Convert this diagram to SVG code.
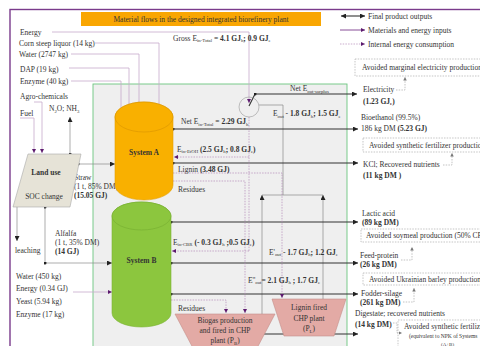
<svg xmlns="http://www.w3.org/2000/svg" width="480" height="346" viewBox="0 0 480 346">
<style>
text{font-family:"Liberation Serif","DejaVu Serif",serif;font-size:7.5px;fill:#333}
.b{font-weight:bold}
.s{font-size:4.8px}
.c{text-anchor:middle}
.in{stroke:#c7a9cb;stroke-width:0.8;fill:none}
.out{stroke:#333;stroke-width:1.1;fill:none}
.int{stroke:#b58ab9;stroke-width:0.7;stroke-dasharray:1.5,1.2;fill:none}
.g{stroke:#8a8a8a;stroke-width:0.7;fill:none}
.av{stroke:#9a9a9a;stroke-width:0.6;stroke-dasharray:1.5,1.2;fill:none}
.box{fill:none;stroke:#a0a0a0;stroke-width:0.6;stroke-dasharray:1.5,1.2}
.chp{fill:#e3aaa5;stroke:#c48f8a;stroke-width:0.6}
</style>
<defs>
<marker id="ap" viewBox="0 0 6 6" refX="6" refY="3" markerWidth="4" markerHeight="4" markerUnits="userSpaceOnUse" orient="auto"><path d="M0,0L6,3L0,6z" fill="#5c1a6e"/></marker>
<marker id="ab" viewBox="0 0 6 6" refX="6" refY="3" markerWidth="5" markerHeight="5" markerUnits="userSpaceOnUse" orient="auto"><path d="M0,0L6,3L0,6z" fill="#222"/></marker>
<marker id="abs" viewBox="0 0 6 6" refX="0" refY="3" markerWidth="5" markerHeight="5" markerUnits="userSpaceOnUse" orient="auto"><path d="M6,0L0,3L6,6z" fill="#222"/></marker>
<marker id="ag" viewBox="0 0 6 6" refX="6" refY="3" markerWidth="3.5" markerHeight="3.5" markerUnits="userSpaceOnUse" orient="auto"><path d="M0,0L6,3L0,6z" fill="#777"/></marker>
<marker id="dot" viewBox="0 0 4 4" refX="2" refY="2" markerWidth="3" markerHeight="3" markerUnits="userSpaceOnUse"><circle cx="2" cy="2" r="2" fill="#222"/></marker>
</defs>

<rect x="10" y="9.5" width="480" height="350" fill="#fff" stroke="#7a3b8c" stroke-width="1.4"/>
<rect id="region" x="93" y="84" width="254" height="270" fill="#efefef" stroke="#6cc57f" stroke-width="0.9"/>

<g id="title">
<rect x="81" y="12" width="240" height="14" fill="#f9a602"/>
<text x="201" y="21.5" class="c">Material flows in the designed integrated biorefinery plant</text>
</g>

<g id="legend">
<line x1="341" y1="16" x2="365" y2="16" class="out" marker-start="url(#abs)" marker-end="url(#ab)"/>
<text x="368" y="18.5">Final product outputs</text>
<line x1="340" y1="30" x2="365" y2="30" stroke="#7a3b8c" stroke-width="0.9" marker-end="url(#ap)"/>
<text x="368" y="32.5">Materials and energy inputs</text>
<line x1="340" y1="44" x2="365" y2="44" class="int" marker-end="url(#ap)"/>
<text x="368" y="46.5">Internal energy consumption</text>
</g>

<g id="connectors">
<path d="M52,32H249V103" class="in" marker-end="url(#ap)"/>
<path d="M95,43H159V110" class="in" marker-end="url(#ap)"/>
<path d="M71,54H139V111" class="in" marker-end="url(#ap)"/>
<path d="M69,68H129V115" class="in" marker-end="url(#ap)"/>
<path d="M71,81H121V120" class="in" marker-end="url(#ap)"/>
<path d="M34,102H42V153" class="in" marker-end="url(#ap)"/>
<path d="M20,118H34V153" class="in" marker-end="url(#ap)"/>
<path d="M73,292H112" class="in" marker-end="url(#ap)"/>
<path d="M70,154V117" class="g" marker-start="url(#dot)" marker-end="url(#ab)"/>
<path d="M78,164H115" class="g" marker-start="url(#dot)" marker-end="url(#ab)"/>
<path d="M45,207V263H112" class="g" marker-start="url(#dot)" marker-mid="url(#dot)" marker-end="url(#ab)"/>
<path d="M17,207V241" class="g" marker-end="url(#ab)"/>
<path d="M259,105H283V195" class="g"/>
<path d="M262,195H323" class="g"/>
<path d="M262,334V195" class="g" marker-end="url(#ab)"/>
<path d="M323,299V195" class="g" marker-end="url(#ab)"/>
<path d="M249,106L255,94H357" class="out" marker-mid="url(#dot)" marker-end="url(#ab)"/>
<path d="M173,129H358" class="out" marker-start="url(#dot)" marker-end="url(#ab)"/>
<path d="M173,163H358" class="out" marker-start="url(#dot)" marker-end="url(#ab)"/>
<path d="M171,222H358" class="out" marker-start="url(#dot)" marker-end="url(#ab)"/>
<path d="M171,263H358" class="out" marker-start="url(#dot)" marker-end="url(#ab)"/>
<path d="M171,294H358" class="out" marker-start="url(#dot)" marker-end="url(#ab)"/>
<path d="M262,334H358" class="out" marker-start="url(#dot)" marker-end="url(#ab)"/>
<path d="M249,117V251" class="int"/>
<path d="M249,157H174" class="int" marker-end="url(#ap)"/>
<path d="M249,251H172" class="int" marker-end="url(#ap)"/>
<path d="M173,173H282V298" class="int" marker-end="url(#ap)"/>
<path d="M173,181H245V313" class="int" marker-end="url(#ap)"/>
<path d="M171,300H226V313" class="int" marker-end="url(#ap)"/>
<path d="M396,90H405V77" class="av" marker-end="url(#ag)"/>
<path d="M443,165H452V153" class="av" marker-end="url(#ag)"/>
<path d="M401,260H412V247" class="av" marker-end="url(#ag)"/>
<path d="M403,302H414V288" class="av" marker-end="url(#ag)"/>
<path d="M393,323H397V333H402" class="av" marker-end="url(#ag)"/>
</g>

<g id="inputs-left">
<text x="20" y="35">Energy</text>
<text x="19" y="45.5">Corn steep liquor (14 kg)</text>
<text x="19" y="56.5">Water (2747 kg)</text>
<text x="20" y="71.5">DAP (19 kg)</text>
<text x="20" y="84">Enzyme (40 kg)</text>
<text x="20" y="98.5">Agro-chemicals</text>
<text x="20" y="115.5">Fuel</text>
<text x="49" y="111">N<tspan class="s" dy="1.5">2</tspan><tspan dy="-1.5">O; NH</tspan><tspan class="s" dy="1.5">3</tspan></text>
<text x="15" y="252.5">leaching</text>
<text x="55" y="235.5">Alfalfa</text>
<text x="55" y="244.5">(1 t, 35% DM)</text>
<text x="55" y="253.5" class="b">(14 GJ)</text>
<text x="74" y="179.5">Straw</text>
<text x="74" y="188.5">(1 t, 85% DM)</text>
<text x="74" y="197.5" class="b">(15.05 GJ)</text>
<text x="16" y="278.5">Water (450 kg)</text>
<text x="16" y="291">Energy (0.34 GJ)</text>
<text x="16" y="303.5">Yeast  (5.94 kg)</text>
<text x="16" y="316.5">Enzyme (17 kg)</text>
</g>

<g id="land-use">
<polygon points="28,154 81,154 70,207 13,207" fill="#e6e3d7" stroke="#aaa" stroke-width="0.6"/>
<text x="46" y="174.5" class="b c">Land use</text>
<text x="44" y="198.5" class="c">SOC change</text>
</g>

<g id="system-a">
<path d="M115,117V185A29,15 0 0 0 173,185V117A29,15 0 0 0 115,117Z" fill="#f9b000" stroke="#e39e00" stroke-width="0.6"/>
<ellipse cx="144" cy="117" rx="29" ry="15" fill="#f9b000" stroke="#d99400" stroke-width="0.6"/>
<text x="144" y="154.5" class="b c">System A</text>
</g>

<g id="system-b">
<path d="M112,216V313A29.5,14 0 0 0 171,313V216A29.5,14 0 0 0 112,216Z" fill="#8cc63e" stroke="#7cb435" stroke-width="0.6"/>
<ellipse cx="141.5" cy="216" rx="29.5" ry="14" fill="#8cc63e" stroke="#76ad30" stroke-width="0.6"/>
<text x="141.5" y="262.5" class="b c">System B</text>
</g>

<g id="energy-hub">
<circle cx="249" cy="107" r="10" fill="none" stroke="#999" stroke-width="0.6"/>
</g>

<g id="biogas-chp">
<polygon points="175,314 275,314 256,350 194,350" class="chp"/>
<text x="225" y="323" class="c">Biogas production</text>
<text x="225" y="333" class="c">and fired in CHP</text>
<text x="225" y="343" class="c">plant (P<tspan class="s" dy="1.5">B</tspan><tspan dy="-1.5">)</tspan></text>
</g>

<g id="lignin-chp">
<polygon points="272,299 346,299 334,336 284,336" class="chp"/>
<text x="309" y="310" class="c">Lignin fired</text>
<text x="309" y="320.5" class="c">CHP plant</text>
<text x="309" y="331" class="c">(P<tspan class="s" dy="1.5">L</tspan><tspan dy="-1.5">)</tspan></text>
</g>

<g id="flow-labels">
<text x="173" y="40.5">Gross E<tspan class="s" dy="1.5">in-Total</tspan><tspan dy="-1.5"> = </tspan><tspan class="b">4.1 GJ</tspan><tspan class="s" dy="1.5">h</tspan><tspan dy="-1.5" class="b">; 0.9 GJ</tspan><tspan class="s" dy="1.5">e</tspan></text>
<text x="290" y="91">Net E<tspan class="s" dy="1.5">out-surplus</tspan></text>
<text x="273" y="116">E<tspan class="s" dy="1.5">out</tspan><tspan dy="-1.5"> - </tspan><tspan class="b">1.8 GJ</tspan><tspan class="s" dy="1.5">h</tspan><tspan dy="-1.5" class="b">;  1.5 GJ</tspan><tspan class="s" dy="1.5">e</tspan></text>
<text x="181" y="124">Net E<tspan class="s" dy="1.5">in-Total</tspan><tspan dy="-1.5"> = </tspan><tspan class="b">2.29 GJ</tspan><tspan class="s" dy="1.5">h</tspan></text>
<text x="177" y="151.5">E<tspan class="s" dy="1.5">in-EtOH</tspan><tspan dy="-1.5" class="b"> (2.5 GJ</tspan><tspan class="s" dy="1.5">h</tspan><tspan dy="-1.5" class="b">; 0.8 GJ</tspan><tspan class="s" dy="1.5">e</tspan><tspan dy="-1.5" class="b">)</tspan></text>
<text x="178" y="171.5">Lignin <tspan class="b">(3.48 GJ)</tspan></text>
<text x="178" y="191.5">Residues</text>
<text x="173" y="244.5">E<tspan class="s" dy="1.5">in-CBR</tspan><tspan dy="-1.5" class="b"> (- 0.3 GJ</tspan><tspan class="s" dy="1.5">h</tspan><tspan dy="-1.5" class="b"> ;0.5 GJ</tspan><tspan class="s" dy="1.5">e</tspan><tspan dy="-1.5" class="b">)</tspan></text>
<text x="269" y="254.5">E'<tspan class="s" dy="1.5">out</tspan><tspan dy="-1.5"> - </tspan><tspan class="b">1.7 GJ</tspan><tspan class="s" dy="1.5">h</tspan><tspan dy="-1.5" class="b">; 1.2 GJ</tspan><tspan class="s" dy="1.5">e</tspan></text>
<text x="248" y="282.5">E''<tspan class="s" dy="1.5">out</tspan><tspan dy="-1.5">= </tspan><tspan class="b">2.1 GJ</tspan><tspan class="s" dy="1.5">h</tspan><tspan dy="-1.5" class="b"> ; 1.7 GJ</tspan><tspan class="s" dy="1.5">e</tspan></text>
<text x="178" y="310.5">Residues</text>
</g>

<g id="products">
<rect x="355" y="59" width="140" height="17" class="box"/>
<text x="362" y="70">Avoided marginal electricity production</text>
<text x="363" y="92">Electricity</text>
<text x="363" y="103.5" class="b">(1.23 GJ<tspan class="s" dy="1.5">e</tspan><tspan dy="-1.5">)</tspan></text>
<text x="361" y="119.5">Bioethanol (99.5%)</text>
<text x="361" y="130.5">186 kg  DM <tspan class="b">(5.23 GJ)</tspan></text>
<rect x="363" y="138" width="130" height="14" class="box"/>
<text x="369" y="147.5">Avoided synthetic fertilizer  production</text>
<text x="363" y="166.5">KCl; Recovered nutrients</text>
<text x="363" y="178" class="b">(11 kg DM )</text>
<text x="362" y="215.5">Lactic acid</text>
<text x="362" y="225" class="b">(89 kg DM)</text>
<rect x="361" y="229" width="130" height="13" class="box"/>
<text x="366" y="238">Avoided soymeal  production (50% CP</text>
<text x="360" y="257.5">Feed-protein</text>
<text x="360" y="267" class="b">(26 kg DM)</text>
<rect x="363" y="273" width="130" height="12" class="box"/>
<text x="369" y="281.5">Avoided Ukrainian barley production</text>
<text x="361" y="295.5">Fodder-silage</text>
<text x="360" y="305" class="b">(261 kg DM)</text>
<text x="355" y="316">Digestate; recovered nutrients</text>
<text x="355" y="326.5" class="b">(14 kg DM)</text>
<rect x="398" y="320" width="95" height="40" class="box"/>
<text x="404" y="329">Avoided synthetic fertilizer</text>
<text x="409" y="338" style="font-size:5.5px">(equivalent to NPK of Systems</text>
<text x="441" y="346" style="font-size:5px">(A+B)</text>
</g>
</svg>
